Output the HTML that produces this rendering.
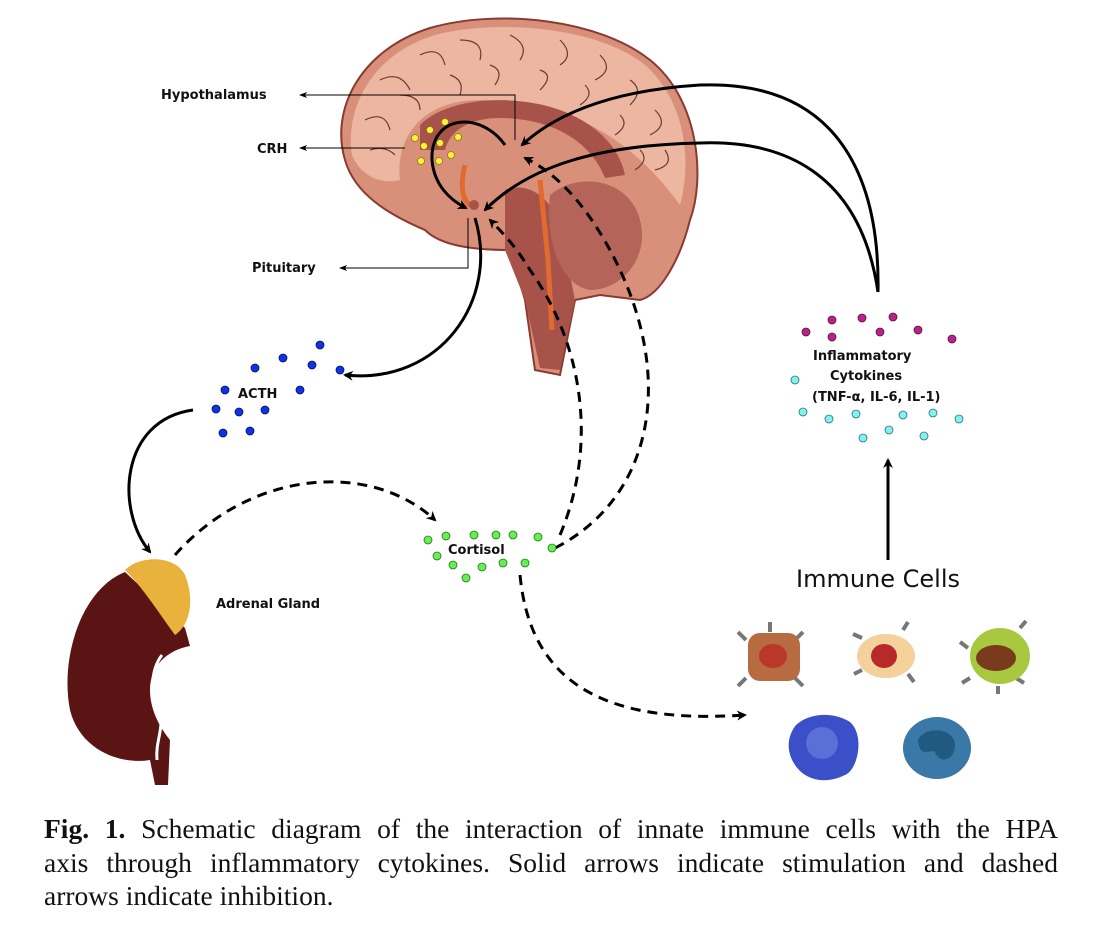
<!DOCTYPE html>
<html><head><meta charset="utf-8"><style>
body{margin:0;background:#fff;width:1100px;height:934px;overflow:hidden}
.cap{position:absolute;left:44px;top:812px;width:1014px;font-family:"Liberation Serif",serif;font-size:27.5px;line-height:33.5px;color:#111;white-space:nowrap}
.cap div.j{text-align:justify;text-align-last:justify}
</style></head><body>
<svg width="1100" height="934" style="position:absolute;left:0;top:0" font-family="DejaVu Sans, Liberation Sans, sans-serif">
<defs>
<marker id="a" markerWidth="10" markerHeight="10" refX="8" refY="5" orient="auto" markerUnits="userSpaceOnUse"><path d="M0,0 L10,5 L0,10 L3,5z" fill="#000"/></marker>
<marker id="s" markerWidth="8" markerHeight="8" refX="7" refY="4" orient="auto" markerUnits="userSpaceOnUse"><path d="M0,1 L8,4 L0,7 L2,4z" fill="#000"/></marker>
</defs>
<path d="M345,160 C330,110 360,50 430,28 C500,8 600,20 650,60 C700,100 705,180 690,220 C680,260 660,295 640,300 L600,295 L575,300 L560,375 L535,370 L525,300 L510,250 C470,250 440,245 425,230 C390,215 355,195 345,160Z" fill="#d9907a" stroke="#8a3a30" stroke-width="2"/>
<path d="M352,155 C345,110 370,55 435,35 C500,18 600,28 645,65 C690,105 690,170 680,205 C640,150 580,100 480,100 C420,100 395,140 400,180 C380,185 360,175 352,155Z" fill="#ecb6a0"/>
<path d="M420,125 C450,95 520,95 560,110 C600,125 620,150 625,175 L605,178 C590,140 550,118 500,118 C470,118 450,130 445,150 L420,150Z" fill="#a8534a"/>
<path d="M505,190 C530,180 560,200 565,250 L575,300 L560,370 L540,368 L525,300 L505,250Z" fill="#a8534a"/>
<path d="M550,195 C580,170 630,180 640,220 C650,260 620,290 590,290 C560,285 545,240 550,195Z" fill="#b5645a"/>
<path d="M540,180 L548,260 L552,330" stroke="#e06a30" stroke-width="5" fill="none"/>
<path d="M465,165 C460,185 462,200 470,205" stroke="#e06a30" stroke-width="5" fill="none"/>
<circle cx="474" cy="205" r="5" fill="#a8534a"/>
<g stroke="#6b3a30" stroke-width="1.2" fill="none">
<path d="M380,80 q20,-10 30,10 M420,55 q20,-10 25,10 M460,40 q25,0 20,20 M510,35 q20,10 10,25 M560,40 q15,15 0,25 M600,55 q15,15 -5,25 M630,80 q15,10 0,25 M655,110 q15,15 -5,25 M665,150 q10,15 -10,20 M365,120 q20,-10 25,10 M370,150 q15,-5 25,5 M400,95 q20,0 20,15 M450,75 q15,5 10,20 M490,65 q15,5 5,20 M540,70 q15,5 0,20 M585,85 q10,10 -5,20 M620,115 q10,10 -5,20 M640,150 q10,10 -5,20"/>
</g>
<g fill="#ffee44" stroke="#8a7a00" stroke-width="0.8">
<circle cx="445" cy="122" r="3.5"/><circle cx="430" cy="130" r="3.5"/><circle cx="415" cy="138" r="3.5"/><circle cx="458" cy="137" r="3.5"/><circle cx="440" cy="143" r="3.5"/><circle cx="424" cy="146" r="3.5"/><circle cx="451" cy="155" r="3.5"/><circle cx="421" cy="161" r="3.5"/><circle cx="439" cy="161" r="3.5"/>
</g>
<g stroke="#000" stroke-width="1" fill="none">
<path d="M515,140 V95 H300" marker-end="url(#s)"/>
<path d="M405,148 H300" marker-end="url(#s)"/>
<path d="M468,218 V268 H340" marker-end="url(#s)"/>
</g>
<g font-weight="bold" font-size="13" fill="#111">
<text x="161" y="99">Hypothalamus</text>
<text x="257" y="153">CRH</text>
<text x="252" y="272">Pituitary</text>
<text x="238" y="398">ACTH</text>
<text x="216" y="608">Adrenal Gland</text>
<text x="448" y="554">Cortisol</text>
<text x="813" y="360">Inflammatory</text>
<text x="830" y="380">Cytokines</text>
<text x="812" y="401">(TNF-α, IL-6, IL-1)</text>
</g>
<text x="796" y="587" font-size="24" fill="#111">Immune Cells</text>
<g stroke="#000" stroke-width="3" fill="none">
<path d="M505,145 C480,110 430,115 432,160 C434,185 450,200 466,208" marker-end="url(#a)"/>
<path d="M878,292 C880,180 840,80 700,85 C620,90 560,110 522,145" marker-end="url(#a)"/>
<path d="M878,292 C860,170 780,140 700,143 C600,145 530,165 485,210" marker-end="url(#a)"/>
<path d="M475,218 C500,300 440,385 345,375" marker-end="url(#a)"/>
<path d="M193,410 C120,420 115,510 150,552" marker-end="url(#a)"/>
<path d="M888,560 V460" marker-end="url(#a)"/>
</g>
<g stroke="#000" stroke-width="3" fill="none" stroke-dasharray="10,7">
<path d="M175,555 C250,470 370,460 435,520" marker-end="url(#a)"/>
<path d="M560,535 C600,440 580,340 530,270 C515,245 500,230 490,220" marker-end="url(#a)"/>
<path d="M555,548 C650,500 680,380 610,250 C580,195 550,170 525,158" marker-end="url(#a)"/>
<path d="M520,575 C530,680 600,725 745,715" marker-end="url(#a)"/>
</g>
<g fill="#1133dd" stroke="#001066" stroke-width="0.8">
<circle cx="320" cy="345" r="4"/><circle cx="283" cy="358" r="4"/><circle cx="255" cy="368" r="4"/><circle cx="312" cy="365" r="4"/><circle cx="340" cy="370" r="4"/><circle cx="225" cy="390" r="4"/><circle cx="300" cy="390" r="4"/><circle cx="216" cy="409" r="4"/><circle cx="239" cy="412" r="4"/><circle cx="265" cy="410" r="4"/><circle cx="223" cy="433" r="4"/><circle cx="250" cy="431" r="4"/>
</g>
<g fill="#66ee55" stroke="#227711" stroke-width="0.8">
<circle cx="428" cy="540" r="4"/><circle cx="446" cy="536" r="4"/><circle cx="474" cy="535" r="4"/><circle cx="496" cy="535" r="4"/><circle cx="513" cy="535" r="4"/><circle cx="538" cy="537" r="4"/><circle cx="437" cy="556" r="4"/><circle cx="453" cy="565" r="4"/><circle cx="482" cy="567" r="4"/><circle cx="503" cy="563" r="4"/><circle cx="525" cy="563" r="4"/><circle cx="466" cy="578" r="4"/><circle cx="552" cy="548" r="4"/>
</g>
<g fill="#bb2288" stroke="#551040" stroke-width="0.8">
<circle cx="806" cy="332" r="4"/><circle cx="832" cy="320" r="4"/><circle cx="862" cy="318" r="4"/><circle cx="893" cy="317" r="4"/><circle cx="832" cy="337" r="4"/><circle cx="880" cy="332" r="4"/><circle cx="918" cy="330" r="4"/><circle cx="952" cy="339" r="4"/>
</g>
<g fill="#88eeee" stroke="#227777" stroke-width="0.8">
<circle cx="795" cy="380" r="4"/><circle cx="803" cy="412" r="4"/><circle cx="829" cy="419" r="4"/><circle cx="856" cy="414" r="4"/><circle cx="863" cy="438" r="4"/><circle cx="889" cy="430" r="4"/><circle cx="903" cy="415" r="4"/><circle cx="924" cy="436" r="4"/><circle cx="933" cy="413" r="4"/><circle cx="959" cy="419" r="4"/>
</g>
<path d="M125,572 C80,590 60,660 70,710 C80,750 120,765 150,760 L155,785 L168,785 L170,740 C158,725 150,708 150,690 C150,665 168,650 190,646 L185,628 Z" fill="#5a1414"/>
<path d="M162,655 C150,670 150,700 158,712 C166,725 155,740 157,760" stroke="#fff" stroke-width="3" fill="none"/>
<path d="M125,570 C140,555 175,555 185,575 C195,600 190,625 175,635 C160,615 145,590 125,570Z" fill="#e8b23c"/>
<g stroke="#777" stroke-width="4">
<path d="M746,640 l-8,-8 M770,632 v-10 M795,640 l8,-8 M746,678 l-8,8 M795,678 l8,8"/>
<path d="M862,638 l-9,-4 M903,630 l5,-8 M862,670 l-8,4 M908,674 l6,8"/>
<path d="M968,648 l-8,-6 M1020,628 l6,-7 M970,678 l-8,5 M998,686 v8 M1016,678 l8,5"/>
</g>
<rect x="748" y="633" width="52" height="48" rx="12" fill="#b86a40"/>
<ellipse cx="773" cy="656" rx="14" ry="12" fill="#b8382a"/>
<ellipse cx="886" cy="656" rx="29" ry="22" fill="#f4d09a"/>
<ellipse cx="884" cy="656" rx="13" ry="12" fill="#b82a2a"/>
<ellipse cx="1000" cy="656" rx="30" ry="28" fill="#a8c840"/>
<ellipse cx="996" cy="658" rx="20" ry="13" fill="#7a3a1e"/>
<path d="M796,725 C810,712 835,712 850,722 C865,735 858,770 845,775 C825,785 805,780 795,765 C785,750 788,735 796,725Z" fill="#3a4fc8"/>
<circle cx="822" cy="743" r="16" fill="#5a6fd8"/>
<ellipse cx="937" cy="748" rx="34" ry="31" fill="#3a78a8"/>
<path d="M918,740 C925,725 955,728 955,745 C955,760 940,765 935,752 C930,748 920,760 918,740Z" fill="#205a80"/>
</svg>
<div class="cap"><div class="j"><b>Fig. 1.</b> Schematic diagram of the interaction of innate immune cells with the HPA</div><div class="j">axis through inflammatory cytokines. Solid arrows indicate stimulation and dashed</div><div>arrows indicate inhibition.</div></div>
</body></html>
